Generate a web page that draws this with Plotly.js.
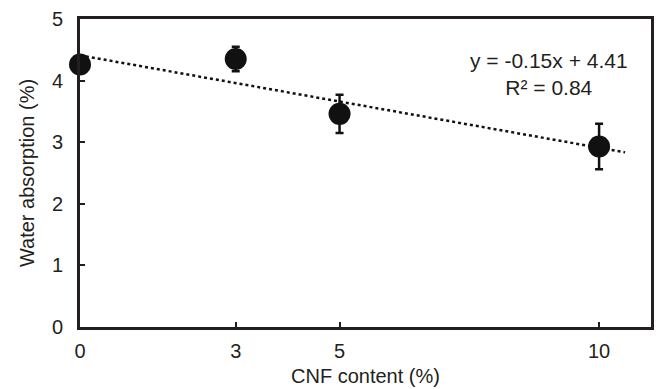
<!DOCTYPE html>
<html><head><meta charset="utf-8">
<script src="https://cdn.plot.ly/plotly-3.0.1.min.js"></script>
<style>html,body{margin:0;padding:0;background:#fff}#chart{width:656px;height:389px}</style>
</head><body><div id="chart"></div>
<script>
const cnfContent = [0, 3, 5, 10];
const waterAbsorption = [4.26, 4.35, 3.46, 2.93];
const errorValues = [0.12, 0.2, 0.31, 0.37];
const trendSlope = -0.15;
const trendIntercept = 4.41;
const trendRange = [0, 10.5];
const xTicks = [0, 3, 5, 10];
const yTicks = [0, 1, 2, 3, 4, 5];
const equationText = ["y = -0.15x + 4.41", "R² = 0.84"];

const font = {family: '"Liberation Sans", Arial, sans-serif', size: 20, color: '#231f20'};
const trendY = trendRange.map(x => trendSlope * x + trendIntercept);

const traces = [
  {x: trendRange, y: trendY, mode: 'lines', line: {color: '#111', width: 2.5, dash: 'dot'}, hoverinfo: 'skip', cliponaxis: false},
  {x: cnfContent, y: waterAbsorption, mode: 'markers', cliponaxis: false,
   marker: {size: 22, color: '#111'},
   error_y: {type: 'data', array: errorValues, visible: true, color: '#111', thickness: 2.5, width: 4}}
];

const layout = {
  width: 656, height: 389,
  margin: {l: 80, r: 5, t: 19, b: 62},
  paper_bgcolor: '#fff', plot_bgcolor: '#fff',
  showlegend: false,
  font: font,
  xaxis: {range: [0, 11], tickvals: xTicks, ticktext: xTicks.map(String), ticks: 'inside', ticklen: 5, tickwidth: 2, tickcolor: '#231f20',
    showline: true, linewidth: 3, linecolor: '#231f20', mirror: true, showgrid: false, zeroline: false,
    ticklabelstandoff: 4,
    title: {text: 'CNF content (%)', font: font, standoff: 8}},
  yaxis: {range: [0, 5], tickvals: yTicks, ticks: 'inside', ticklen: 5, tickwidth: 2, tickcolor: '#231f20',
    showline: true, linewidth: 3, linecolor: '#231f20', mirror: true, showgrid: false, zeroline: false,
    ticklabelstandoff: 10,
    title: {text: 'Water absorption (%)', font: font, standoff: 12}},
  annotations: [
    {x: 0.821, y: 0.823, xref: 'paper', yref: 'paper', text: equationText.join('<br>'), showarrow: false, align: 'center',
     font: {family: font.family, size: 21, color: font.color}, xanchor: 'center', yanchor: 'middle'}
  ]
};
Plotly.newPlot('chart', traces, layout, {displayModeBar: false, staticPlot: true});
</script></body></html>
